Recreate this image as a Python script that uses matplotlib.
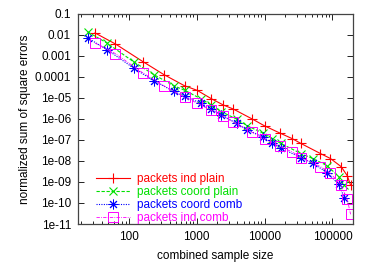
import matplotlib
matplotlib.use('Agg')
import matplotlib.pyplot as plt
from matplotlib.ticker import FixedLocator, FixedFormatter, LogLocator, NullFormatter

# sample sizes: the "ind" and "coord" series sit at slightly different x
x_ind = [32, 64, 163, 329, 665, 1020, 1650, 2480, 3440, 6650, 10000, 17000,
         25400, 34400, 66500, 93400, 134000, 165000, 185000]
x_coord = [25, 48, 118, 234, 462, 672, 1150, 1650, 2320, 3900, 5600, 9550,
           13100, 17400, 34400, 51200, 83400, 124000, 150000]

ind_plain = [0.0124, 0.0037, 5.3e-4, 1.3e-4, 3.8e-5, 2.3e-5, 9.2e-6, 4.6e-6,
             3.0e-6, 9.8e-7, 4.7e-7, 2.1e-7, 1.17e-7, 6.8e-8, 2.26e-8,
             1.31e-8, 5.4e-9, 2.0e-9, 7.0e-10]
coord_plain = [0.0139, 0.0041, 5.3e-4, 1.3e-4, 3.8e-5, 2.3e-5, 9.2e-6, 4.6e-6,
               2.2e-6, 9.8e-7, 4.7e-7, 2.1e-7, 1.17e-7, 6.8e-8, 2.26e-8,
               1.31e-8, 6.0e-9, 1.8e-9, 7.0e-10]
coord_comb = [0.0072, 0.0020, 2.66e-4, 6.6e-5, 2.05e-5, 1.18e-5, 5.7e-6,
              2.94e-6, 1.58e-6, 6.1e-7, 3.0e-7, 1.41e-7, 7.0e-8, 4.06e-8,
              1.46e-8, 7.8e-9, 2.8e-9, 7.8e-10, 1.74e-10]
ind_comb = [0.0041, 0.00128, 1.53e-4, 3.8e-5, 1.06e-5, 5.7e-6, 2.54e-6,
            1.32e-6, 7.1e-7, 2.27e-7, 1.09e-7, 4.9e-8, 2.72e-8, 1.46e-8,
            5.4e-9, 2.6e-9, 7.0e-10, 1.5e-10, 2.9e-11]

y_ticks = [1e-1, 1e-2, 1e-3, 1e-4, 1e-5, 1e-6, 1e-7, 1e-8, 1e-9, 1e-10, 1e-11]
y_labels = ['0.1', '0.01', '0.001', '0.0001', '1e-05', '1e-06', '1e-07',
            '1e-08', '1e-09', '1e-10', '1e-11']
x_ticks = [100, 1000, 10000, 100000]
x_labels = ['100', '1000', '10000', '100000']

plt.rcParams['font.family'] = ['Liberation Sans', 'DejaVu Sans']
fs = 8.5

fig = plt.figure(figsize=(3.74, 2.62), dpi=100)
ax = fig.add_axes([0.2086, 0.145, 0.735, 0.802])

red, green, blue, mag = '#ff0000', '#00e000', '#0000ff', '#ff00ff'
ax.plot(x_ind, ind_plain, '-', color=red, mec=red, lw=0.8, marker='+',
        ms=7, mew=0.8, label='packets ind plain')
ax.plot(x_coord, coord_plain, color=green, mec=green, lw=0.8, marker='x',
        ms=6, mew=0.8, ls=(0, (3, 1.5)), label='packets coord plain')
ax.plot(x_coord, coord_comb, color=blue, mec=blue, lw=0.8, ls=(0, (1, 1.2)),
        marker=(8, 2, 0), ms=7, mew=0.7, label='packets coord comb')
ax.plot(x_ind, ind_comb, color=mag, mec=mag, lw=0.6, ls=(0, (4, 1.5, 1, 1.5)),
        marker='s', ms=6.5, mew=0.7, mfc='none', label='packets ind comb')

ax.set_xscale('log')
ax.set_yscale('log')
ax.set_xlim(18, 2e5)
ax.set_ylim(1e-11, 0.1)

ax.yaxis.set_major_locator(FixedLocator(y_ticks))
ax.yaxis.set_major_formatter(FixedFormatter(y_labels))
ax.yaxis.set_minor_locator(FixedLocator([]))
ax.xaxis.set_major_locator(FixedLocator(x_ticks))
ax.xaxis.set_major_formatter(FixedFormatter(x_labels))
ax.xaxis.set_minor_locator(LogLocator(base=10, subs=(2, 3, 4, 5, 6, 7, 8, 9)))
ax.xaxis.set_minor_formatter(NullFormatter())

ax.tick_params(which='both', direction='in', top=True, right=True,
               labelsize=fs, width=0.6)
ax.tick_params(which='major', length=4, pad=5)
ax.tick_params(which='minor', length=2)
for s in ax.spines.values():
    s.set_linewidth(0.9)
    s.set_color('#444444')

ax.set_xlabel('combined sample size', fontsize=fs, labelpad=5)
ax.set_ylabel('normalized sum of square errors', fontsize=fs, labelpad=3)

ax.legend(loc='lower left', bbox_to_anchor=(0.04, -0.035), frameon=False,
          fontsize=fs, labelcolor='linecolor', handlelength=2.9,
          handletextpad=0.6, labelspacing=0.1, borderaxespad=0.2)

fig.savefig('out.png', dpi=100)
